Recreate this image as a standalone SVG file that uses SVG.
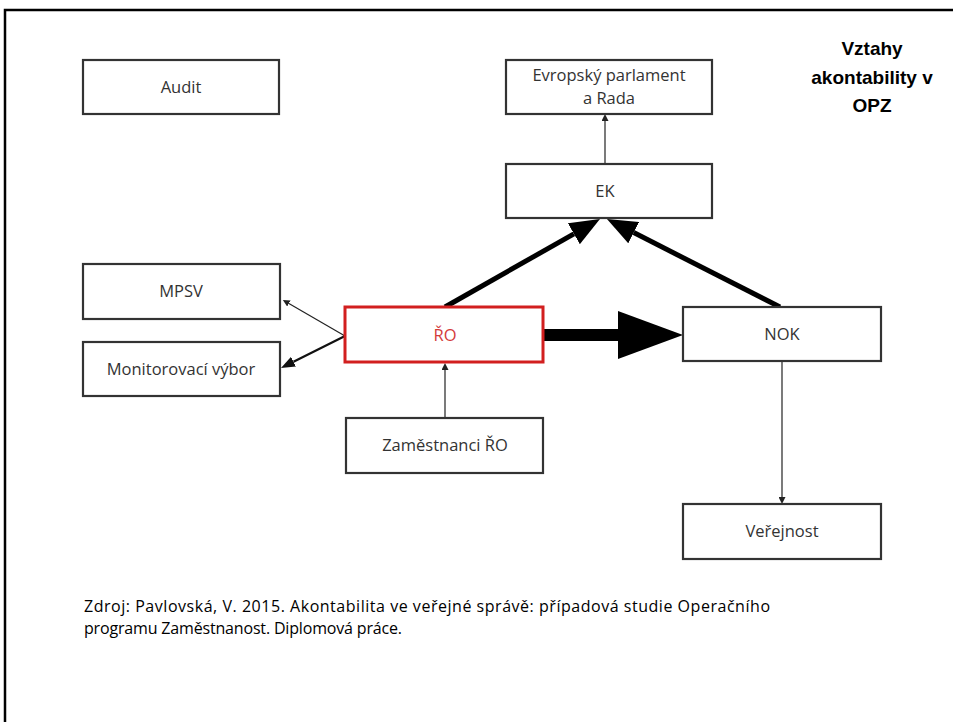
<svg xmlns="http://www.w3.org/2000/svg" width="953" height="722" viewBox="0 0 953 722">
<style>
  .box { fill: #ffffff; stroke: #333333; stroke-width: 2.2; }
  .red { fill: #ffffff; stroke: #d21f1f; stroke-width: 3; }
  .lbl { font-family: "Open Sans", "Liberation Sans", sans-serif; font-size: 16.5px; fill: #333333; text-anchor: middle; }
  .lblred { font-family: "Open Sans", "Liberation Sans", sans-serif; font-size: 16.5px; fill: #d43a3a; text-anchor: middle; }
  .title { font-family: "Liberation Sans", Arial, sans-serif; font-weight: bold; font-size: 19px; fill: #000000; text-anchor: middle; }
  .foot { font-family: "Open Sans", "Liberation Sans", sans-serif; font-size: 16px; fill: #000000; }
  .thin { stroke: #222222; stroke-width: 1.2; fill: none; }
  .med { stroke: #111111; stroke-width: 2.2; fill: none; }
  .thick { stroke: #000000; stroke-width: 5; fill: none; }
  .huge { stroke: #000000; stroke-width: 12; fill: none; }
</style>
<defs>
  <marker id="mSmall" markerUnits="userSpaceOnUse" markerWidth="8" markerHeight="7" refX="0" refY="3.5" orient="auto">
    <path d="M0,0 L7,3.5 L0,7 z" fill="#222222"/>
  </marker>
  <marker id="mMed" markerUnits="userSpaceOnUse" markerWidth="15" markerHeight="11" refX="0" refY="5.5" orient="auto">
    <path d="M0,0 L14,5.5 L0,11 z" fill="#111111"/>
  </marker>
  <marker id="mBig" markerUnits="userSpaceOnUse" markerWidth="31" markerHeight="24" refX="0" refY="12" orient="auto">
    <path d="M0,0 L30,12 L0,24 z" fill="#000000"/>
  </marker>
  <marker id="mHuge" markerUnits="userSpaceOnUse" markerWidth="66" markerHeight="48" refX="0" refY="24" orient="auto">
    <path d="M0,0 L65,24 L0,48 z" fill="#000000"/>
  </marker>
</defs>
<rect x="0" y="0" width="953" height="722" fill="#ffffff"/>
<path d="M5,722 V10 H953" fill="none" stroke="#000000" stroke-width="2.5"/>

<g id="title">
  <text class="title" x="872" y="55">Vztahy</text>
  <text class="title" x="872" y="84">akontability v</text>
  <text class="title" x="872" y="112">OPZ</text>
</g>

<g id="connectors">
  <line class="thin" x1="605" y1="164" x2="605" y2="121" marker-end="url(#mSmall)"/>
  <line class="thick" x1="445" y1="307" x2="573.9" y2="233.8" marker-end="url(#mBig)"/>
  <line class="thick" x1="780" y1="307" x2="633.7" y2="232.6" marker-end="url(#mBig)"/>
  <line class="huge" x1="544" y1="335" x2="618" y2="335" marker-end="url(#mHuge)"/>
  <line class="thin" x1="345" y1="336" x2="288.9" y2="303.5" marker-end="url(#mSmall)"/>
  <line class="med" x1="345" y1="336" x2="293.5" y2="361.7" marker-end="url(#mMed)"/>
  <line class="thin" x1="445" y1="418" x2="445" y2="370" marker-end="url(#mSmall)"/>
  <line class="thin" x1="782" y1="361" x2="782" y2="497" marker-end="url(#mSmall)"/>
</g>

<g id="audit">
  <rect class="box" x="83" y="60" width="196" height="54"/>
  <text class="lbl" x="181" y="93">Audit</text>
</g>
<g id="evropsky-parlament">
  <rect class="box" x="506" y="60" width="206" height="54"/>
  <text class="lbl" x="609" y="81">Evropský parlament</text>
  <text class="lbl" x="609" y="104">a Rada</text>
</g>
<g id="ek">
  <rect class="box" x="506" y="164" width="206" height="54"/>
  <text class="lbl" x="605" y="197">EK</text>
</g>
<g id="mpsv">
  <rect class="box" x="83" y="264" width="197" height="55"/>
  <text class="lbl" x="181" y="297">MPSV</text>
</g>
<g id="monitorovaci-vybor">
  <rect class="box" x="83" y="342" width="197" height="54"/>
  <text class="lbl" x="181" y="375">Monitorovací výbor</text>
</g>
<g id="ro">
  <rect class="red" x="345" y="307" width="198" height="55"/>
  <text class="lblred" x="445" y="341">ŘO</text>
</g>
<g id="nok">
  <rect class="box" x="683" y="307" width="198" height="54"/>
  <text class="lbl" x="782" y="340">NOK</text>
</g>
<g id="zamestnanci-ro">
  <rect class="box" x="346" y="418" width="197" height="55"/>
  <text class="lbl" x="445" y="451">Zaměstnanci ŘO</text>
</g>
<g id="verejnost">
  <rect class="box" x="683" y="504" width="198" height="55"/>
  <text class="lbl" x="782" y="537">Veřejnost</text>
</g>

<g id="source">
  <text class="foot" x="84" y="612" textLength="686" lengthAdjust="spacing">Zdroj: Pavlovská, V. 2015. Akontabilita ve veřejné správě: případová studie Operačního</text>
  <text class="foot" x="84" y="634" textLength="318" lengthAdjust="spacing">programu Zaměstnanost. Diplomová práce.</text>
</g>
</svg>
